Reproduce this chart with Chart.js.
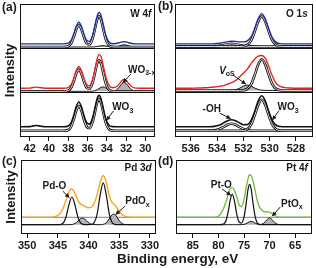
<!DOCTYPE html>
<html><head><meta charset="utf-8">
<script src="https://cdn.jsdelivr.net/npm/chart.js@4/dist/chart.umd.min.js"></script>
<style>
html,body{margin:0;padding:0;background:#fff;}
#wrap{position:relative;width:316px;height:268px;overflow:hidden;font-family:'Liberation Sans',Arial,Helvetica,sans-serif;font-weight:bold;color:#1a1a1a;}
canvas{position:absolute;left:0;top:0;}
.lbl{position:absolute;font-size:12px;line-height:12px;white-space:nowrap;}
</style></head><body>
<div id="wrap">
<canvas id="ca" width="316" height="268"></canvas>
<canvas id="cb" width="316" height="268"></canvas>
<canvas id="cc" width="316" height="268"></canvas>
<canvas id="cd" width="316" height="268"></canvas>
<div class="lbl" style="left:2px;top:1px">(a)</div>
<div class="lbl" style="left:158px;top:0px">(b)</div>
<div class="lbl" style="left:2px;top:155px">(c)</div>
<div class="lbl" style="left:158px;top:155px">(d)</div>
<div class="lbl" style="left:117px;top:252px;font-size:13.5px;line-height:14px">Binding energy, eV</div>
</div>
<script>
// ---------- DATA ----------
// (a) W 4f : binding energy grid (eV)
const xA = [43,42,41.6,41.3,41,40.4,39.5,38.5,38,37.7,37.4,37.2,36.9,36.6,36.4,36.1,35.8,35.5,35.3,35,34.8,34.6,34.4,34.1,33.8,33.4,33,32.7,32.4,32.2,32,31.7,31.4,31,30.5,29.5,29];
// top trace (blue)
const aTopEnv = [0.10,0.10,0.10,0.10,0.10,0.10,0.10,0.10,0.116,0.18,0.341,0.48,0.59,0.48,0.341,0.185,0.157,0.275,0.443,0.727,0.809,0.743,0.568,0.295,0.152,0.105,0.108,0.125,0.145,0.15,0.145,0.125,0.108,0.101,0.10,0.10,0.10];
const aTopW6 = [0.03,0.03,0.03,0.03,0.03,0.03,0.03,0.03,0.046,0.11,0.271,0.41,0.52,0.41,0.271,0.115,0.087,0.204,0.37,0.646,0.72,0.646,0.468,0.202,0.071,0.033,0.03,0.03,0.03,0.03,0.03,0.03,0.03,0.03,0.03,0.03,0.03];
const aTopWx = [0.03,0.03,0.03,0.03,0.03,0.03,0.03,0.03,0.03,0.03,0.03,0.03,0.03,0.03,0.03,0.03,0.03,0.031,0.033,0.041,0.049,0.057,0.06,0.053,0.041,0.032,0.038,0.055,0.075,0.08,0.075,0.055,0.038,0.031,0.03,0.03,0.03];
// middle trace (red, WO3-x)
const aMidEnv = [0.10,0.103,0.117,0.125,0.117,0.101,0.10,0.10,0.116,0.18,0.341,0.48,0.59,0.48,0.341,0.186,0.157,0.279,0.454,0.761,0.864,0.814,0.645,0.352,0.177,0.112,0.133,0.198,0.279,0.30,0.279,0.198,0.133,0.103,0.10,0.10,0.10];
const aMidW6 = [0.03,0.03,0.03,0.03,0.03,0.03,0.03,0.03,0.046,0.11,0.271,0.41,0.52,0.41,0.271,0.116,0.087,0.206,0.374,0.655,0.73,0.655,0.475,0.204,0.071,0.033,0.03,0.03,0.03,0.03,0.03,0.03,0.03,0.03,0.03,0.03,0.03];
const aMidWx = [0.03,0.03,0.03,0.03,0.03,0.03,0.03,0.03,0.03,0.03,0.03,0.03,0.03,0.03,0.03,0.03,0.03,0.033,0.04,0.066,0.094,0.119,0.13,0.108,0.066,0.039,0.063,0.128,0.209,0.23,0.209,0.128,0.063,0.033,0.03,0.03,0.03];
// bottom trace (black, WO3)
const aBotEnv = [0.23,0.234,0.251,0.26,0.251,0.231,0.23,0.23,0.248,0.321,0.506,0.664,0.79,0.664,0.506,0.327,0.29,0.409,0.579,0.864,0.94,0.864,0.681,0.407,0.272,0.233,0.23,0.23,0.23,0.23,0.23,0.23,0.23,0.23,0.23,0.23,0.23];
const aBotW6 = [0.14,0.14,0.14,0.14,0.14,0.14,0.14,0.14,0.158,0.231,0.416,0.574,0.70,0.574,0.416,0.237,0.20,0.319,0.489,0.774,0.85,0.774,0.591,0.317,0.182,0.143,0.14,0.14,0.14,0.14,0.14,0.14,0.14,0.14,0.14,0.14,0.14];
const ticksA = [42,40,38,36,34,32,30];

// (b) O 1s
const xB = [537.2,536.5,536,535.5,535,534.6,534.2,533.8,533.5,533.2,532.9,532.6,532.3,532,531.7,531.4,531.1,530.9,530.6,530.3,530.1,529.8,529.5,529.2,528.8,528.4,528,527.4,526.7];
const bTopEnv = [0.10,0.10,0.10,0.10,0.10,0.10,0.104,0.116,0.133,0.152,0.161,0.156,0.146,0.145,0.17,0.265,0.479,0.65,0.782,0.644,0.467,0.24,0.134,0.105,0.10,0.10,0.10,0.10,0.10];
const bTopMain = [0.04,0.04,0.04,0.04,0.04,0.04,0.04,0.04,0.04,0.04,0.04,0.04,0.041,0.045,0.074,0.18,0.407,0.584,0.72,0.584,0.407,0.18,0.074,0.045,0.04,0.04,0.04,0.04,0.04];
const bTopOH = [0.04,0.04,0.04,0.04,0.04,0.04,0.044,0.056,0.073,0.092,0.10,0.092,0.073,0.056,0.046,0.041,0.04,0.04,0.04,0.04,0.04,0.04,0.04,0.04,0.04,0.04,0.04,0.04,0.04];
const bTopVo = [0.04,0.04,0.04,0.04,0.04,0.04,0.04,0.04,0.04,0.04,0.041,0.044,0.052,0.064,0.07,0.064,0.052,0.046,0.042,0.04,0.04,0.04,0.04,0.04,0.04,0.04,0.04,0.04,0.04];
const bMidEnv = [0.10,0.10,0.10,0.104,0.11,0.118,0.128,0.143,0.16,0.19,0.225,0.27,0.35,0.44,0.53,0.66,0.77,0.82,0.84,0.76,0.62,0.38,0.21,0.14,0.113,0.104,0.10,0.10,0.10];
const bMidMain = [0.05,0.05,0.05,0.05,0.05,0.05,0.05,0.05,0.05,0.05,0.05,0.05,0.051,0.056,0.085,0.194,0.428,0.61,0.75,0.61,0.428,0.194,0.085,0.056,0.05,0.05,0.05,0.05,0.05];
const bMidVo = [0.05,0.05,0.05,0.05,0.05,0.05,0.05,0.05,0.05,0.05,0.053,0.066,0.099,0.146,0.17,0.146,0.099,0.075,0.056,0.051,0.05,0.05,0.05,0.05,0.05,0.05,0.05,0.05,0.05];
const bBotEnv = [0.23,0.23,0.23,0.23,0.23,0.231,0.24,0.272,0.318,0.368,0.39,0.368,0.319,0.278,0.28,0.378,0.609,0.79,0.93,0.79,0.608,0.374,0.265,0.236,0.23,0.23,0.23,0.23,0.23];
const bBotMain = [0.14,0.14,0.14,0.14,0.14,0.14,0.14,0.14,0.14,0.14,0.14,0.14,0.141,0.146,0.175,0.284,0.518,0.70,0.84,0.70,0.518,0.284,0.175,0.146,0.14,0.14,0.14,0.14,0.14];
const bBotOH = [0.14,0.14,0.14,0.14,0.14,0.141,0.15,0.182,0.228,0.278,0.30,0.278,0.228,0.182,0.155,0.144,0.141,0.14,0.14,0.14,0.14,0.14,0.14,0.14,0.14,0.14,0.14,0.14,0.14];
const ticksB = [536,534,532,530,528];

// (c) Pd 3d
const xC = [351,348,346.5,345.5,344.8,344.2,343.7,343.2,342.7,342.2,341.7,341.3,341,340.6,340.1,339.6,339.1,338.6,338.1,337.6,337.1,336.6,336.2,335.9,335.5,335,334.5,334,333.3,332.5,331,329];
const cEnv = [0.226,0.226,0.227,0.235,0.262,0.335,0.45,0.57,0.608,0.545,0.45,0.405,0.39,0.375,0.355,0.36,0.41,0.53,0.70,0.79,0.70,0.51,0.43,0.405,0.37,0.31,0.26,0.237,0.228,0.226,0.226,0.226];
const cPdO = [0.126,0.126,0.126,0.126,0.127,0.142,0.219,0.39,0.50,0.39,0.219,0.151,0.133,0.127,0.126,0.128,0.151,0.266,0.525,0.69,0.525,0.266,0.163,0.136,0.127,0.126,0.126,0.126,0.126,0.126,0.126,0.126];
const cPdOx = [0.126,0.126,0.126,0.126,0.126,0.126,0.126,0.126,0.129,0.142,0.176,0.207,0.216,0.201,0.16,0.135,0.127,0.126,0.126,0.131,0.152,0.207,0.256,0.27,0.246,0.181,0.14,0.128,0.126,0.126,0.126,0.126];
const xBgC = [351,329];
const cBg = [0.226,0.226];
const ticksC = [350,345,340,335,330];

// (d) Pt 4f
const xD = [88.3,85,82,80.5,79.7,79,78.5,78,77.7,77.3,76.9,76.4,76,75.5,75,74.6,74.2,73.9,73.6,73.2,72.8,72.4,72,71.5,71,70.5,70,69.5,69,68.3,67.5,66,61.7];
const dEnv = [0.226,0.226,0.226,0.228,0.26,0.345,0.44,0.55,0.61,0.63,0.59,0.50,0.40,0.37,0.46,0.62,0.75,0.80,0.79,0.71,0.58,0.45,0.37,0.32,0.30,0.30,0.295,0.275,0.25,0.232,0.226,0.226,0.226];
const dPtO = [0.126,0.126,0.126,0.126,0.126,0.133,0.182,0.335,0.457,0.54,0.457,0.261,0.167,0.147,0.227,0.401,0.605,0.67,0.605,0.401,0.227,0.15,0.13,0.126,0.126,0.126,0.126,0.126,0.126,0.126,0.126,0.126,0.126];
const dPtOx = [0.126,0.126,0.126,0.126,0.126,0.126,0.126,0.126,0.126,0.126,0.126,0.126,0.126,0.127,0.13,0.139,0.155,0.166,0.17,0.163,0.147,0.134,0.129,0.132,0.154,0.193,0.216,0.193,0.154,0.129,0.126,0.126,0.126];
const xBgD = [88.3,61.7];
const dBg = [0.226,0.226];
const ticksD = [85,80,75,70,65];

// ---------- STYLE / LAYOUT ----------
Chart.defaults.font.family = "'Liberation Sans', Arial, Helvetica, sans-serif";
Chart.defaults.font.weight = 'bold';
const FONT = "'Liberation Sans', Arial, Helvetica, sans-serif";
const BLUE='#1f2f9e', RED='#e5231d', ORANGE='#f6a623', GREEN='#74c043', FILLG='#b3b3b3';

function P(xs, ys, off){ return xs.map((x,i)=>({x:x, y:ys[i]+(off||0)})); }
const common = {pointRadius:0, cubicInterpolationMode:'monotone', fill:false, borderJoinStyle:'round', borderCapStyle:'round'};
function ln(xs, ys, off, color, w, ord){ return Object.assign({data:P(xs,ys,off), borderColor:color, borderWidth:w, order:ord}, common); }
function dbl(xs, ys, off, ord){ return [ln(xs,ys,off,'#111',2.6,ord+1), ln(xs,ys,off,'#fff',0.9,ord)]; }
function filled(xs, ys, off, ord){ const base = ys[0]+off; return Object.assign({}, common, {data:P(xs,ys,off), borderColor:'#111', borderWidth:1, backgroundColor:FILLG, fill:{value:base}, order:ord}); }

const annPlugin = {
  id:'ann',
  afterDraw(chart, args, opts){
    const ctx = chart.ctx, xs = chart.scales.x, ys = chart.scales.y;
    ctx.save();
    ctx.fillStyle = '#1a1a1a'; ctx.strokeStyle = '#1a1a1a';
    (opts.items||[]).forEach(it=>{
      if (it.arrow){
        const [a,b,c,d] = it.arrow;
        const x1=xs.getPixelForValue(a), y1=ys.getPixelForValue(b), x2=xs.getPixelForValue(c), y2=ys.getPixelForValue(d);
        ctx.lineWidth = 1;
        ctx.beginPath(); ctx.moveTo(x1,y1); ctx.lineTo(x2,y2); ctx.stroke();
        const ang = Math.atan2(y2-y1, x2-x1), L=4.5, W=2.2;
        ctx.beginPath();
        ctx.moveTo(x2,y2);
        ctx.lineTo(x2-L*Math.cos(ang)+W*Math.sin(ang), y2-L*Math.sin(ang)-W*Math.cos(ang));
        ctx.lineTo(x2-L*Math.cos(ang)-W*Math.sin(ang), y2-L*Math.sin(ang)+W*Math.cos(ang));
        ctx.closePath(); ctx.fill();
      }
      if (it.parts){
        const size = it.size||10;
        const fontOf = s => (s==='i' ? 'italic bold ' : 'bold ') + (s==='s' ? size*0.7 : size) + 'px ' + FONT;
        let total = 0;
        it.parts.forEach(p=>{ ctx.font = fontOf(p[1]); total += ctx.measureText(p[0]).width; });
        let px = xs.getPixelForValue(it.x), py = ys.getPixelForValue(it.y);
        if (it.align==='right') px -= total;
        ctx.textBaseline = 'alphabetic'; ctx.textAlign = 'left';
        const base = py + size*0.36;
        it.parts.forEach(p=>{
          ctx.font = fontOf(p[1]);
          ctx.fillText(p[0], px, p[1]==='s' ? base + size*0.22 : base);
          px += ctx.measureText(p[0]).width;
        });
      }
    });
    ctx.restore();
  }
};
const framePlugin = {
  id:'frame',
  afterDatasetsDraw(chart){
    const {ctx, chartArea:a} = chart;
    ctx.save(); ctx.strokeStyle='#111'; ctx.lineWidth=1;
    ctx.strokeRect(Math.round(a.left)+0.5, Math.round(a.top)+0.5, Math.round(a.right-a.left)-1, Math.round(a.bottom-a.top)-1);
    ctx.restore();
  }
};

function makeChart(id, area, xr, ticks, ymax, seps, datasets, items, title){
  return new Chart(document.getElementById(id), {
    type:'line',
    data:{datasets:datasets},
    options:{
      responsive:false, animation:false, devicePixelRatio:1, events:[],
      layout:{padding:{left:area.l-20, top:area.t, right:316-area.r, bottom:268-area.b-20}},
      plugins:{legend:{display:false}, tooltip:{enabled:false}, ann:{items:items}},
      scales:{
        x:{type:'linear', reverse:true, min:xr[1], max:xr[0],
           afterBuildTicks:s=>{ s.ticks = ticks.map(v=>({value:v})); },
           afterFit:s=>{ s.height=20; s.paddingLeft=0; s.paddingRight=0; },
           grid:{drawOnChartArea:false, drawTicks:true, tickLength:4, color:'#111', lineWidth:1},
           border:{display:false},
           ticks:{font:{size:11, weight:'bold'}, color:'#1a1a1a', padding:1, maxRotation:0, autoSkip:false}},
        y:{type:'linear', min:0, max:ymax,
           afterBuildTicks:s=>{ s.ticks = seps.map(v=>({value:v})); },
           afterFit:s=>{ s.width=20; s.paddingTop=0; s.paddingBottom=0; },
           grid:{drawTicks:false, color:'#111', lineWidth:1},
           border:{display:false},
           ticks:{display:false},
           title:{display:!!title, text:title||'', font:{size:13, weight:'bold'}, color:'#1a1a1a', padding:{top:3,bottom:0}}}
      }
    },
    plugins:[annPlugin, framePlugin]
  });
}

// (a)
makeChart('ca', {l:20,t:4,r:155,b:137}, [43,29], ticksA, 3, [1,2], [
  ln(xA,aTopEnv,2,BLUE,1.4,1), ...dbl(xA,aTopW6,2,2), filled(xA,aTopWx,2,4),
  ln(xA,aMidEnv,1,RED,1.4,1), ...dbl(xA,aMidW6,1,2), filled(xA,aMidWx,1,4),
  ln(xA,aBotEnv,0,'#111',1.6,1), ...dbl(xA,aBotW6,0,2)
], [
  {x:29.37, y:2.79, align:'right', parts:[['W 4','n'],['f','i']]},
  {x:31.8, y:1.53, parts:[['WO','n'],['3-x','s']], arrow:[31.5,1.42,32.35,1.22]},
  {x:33.44, y:0.68, parts:[['WO','n'],['3','s']], arrow:[33.3,0.59,34.05,0.37]}
], 'Intensity');

// (b)
makeChart('cb', {l:175,t:4,r:313,b:137}, [537.2,526.7], ticksB, 3, [1,2], [
  ln(xB,bTopEnv,2,BLUE,1.4,1), ...dbl(xB,bTopMain,2,2), ...dbl(xB,bTopOH,2,4), filled(xB,bTopVo,2,6),
  ln(xB,bMidEnv,1,RED,1.4,1), ...dbl(xB,bMidMain,1,2), filled(xB,bMidVo,1,6),
  ln(xB,bBotEnv,0,'#111',1.6,1), ...dbl(xB,bBotMain,0,2), ...dbl(xB,bBotOH,0,4)
], [
  {x:527.1, y:2.79, align:'right', parts:[['O 1','n'],['s','i']]},
  {x:533.84, y:1.51, parts:[['V','i'],['oS','s']], arrow:[532.8,1.40,531.8,1.19]},
  {x:535.1, y:0.65, parts:[['-OH','n']], arrow:[533.8,0.54,532.95,0.41]},
  {x:529.4, y:0.68, parts:[['WO','n'],['3','s']], arrow:[529.3,0.59,529.8,0.38]}
], null);

// (c)
makeChart('cc', {l:21,t:160,r:156,b:234}, [351,329], ticksC, 1, [], [
  ln(xBgC,cBg,0,'#9a9a9a',1.2,8),
  filled(xC,cPdOx,0,6),
  ln(xC,cPdO,0,'#111',1.2,3),
  ln(xC,cEnv,0,ORANGE,1.4,1)
], [
  {x:329.7, y:0.90, align:'right', parts:[['Pd 3','n'],['d','i']]},
  {x:347.5, y:0.66, parts:[['Pd-O','n']], arrow:[344.2,0.58,343.1,0.49]},
  {x:334.0, y:0.45, parts:[['PdO','n'],['x','s']], arrow:[334.0,0.38,335.6,0.26]}
], 'Intensity');

// (d)
makeChart('cd', {l:176,t:160,r:312,b:234}, [88.3,61.7], ticksD, 1, [], [
  ln(xBgD,dBg,0,'#9a9a9a',1.2,8),
  filled(xD,dPtOx,0,6),
  ln(xD,dPtO,0,'#111',1.2,3),
  ln(xD,dEnv,0,GREEN,1.4,1)
], [
  {x:62.5, y:0.90, align:'right', parts:[['Pt 4','n'],['f','i']]},
  {x:81.5, y:0.676, parts:[['Pt-O','n']], arrow:[79.3,0.61,77.55,0.52]},
  {x:67.75, y:0.42, parts:[['PtO','n'],['x','s']], arrow:[67.9,0.365,69.5,0.24]}
], null);
</script>
</body></html>
